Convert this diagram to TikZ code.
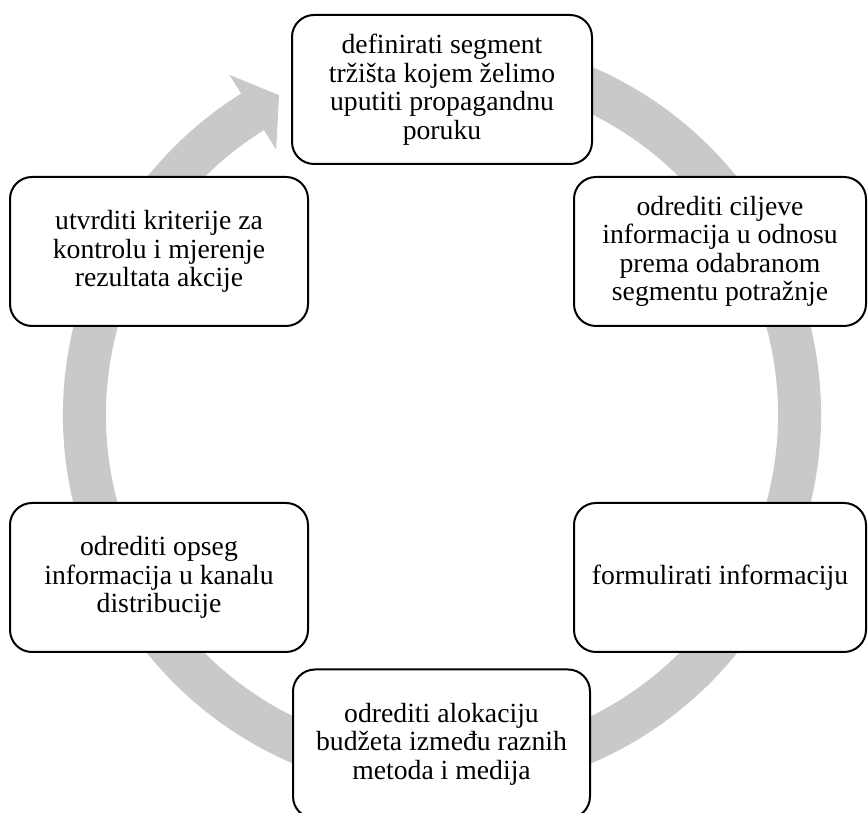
\documentclass[tikz,border=0pt]{standalone}
\usepackage{fontspec}
\setmainfont{Liberation Serif}
\definecolor{ringgray}{RGB}{201,201,201}
\begin{document}
\begin{tikzpicture}[x=1pt,y=1pt,
  box/.style={draw=black, line width=2pt, fill=white, rounded corners=22pt,
    align=center, inner sep=0pt, minimum height=149pt,
    font=\fontsize{27.7}{28.5}\selectfont},
  ring/.style={fill=ringgray}
]
\useasboundingbox (0,0) rectangle (868,813);
% circular arrow
\begin{scope}[shift={(442pt,398pt)}]
  \fill[ring] (75:379pt) arc[start angle=75, end angle=-238, radius=379pt]
    -- (122:401pt) -- (117:359pt) -- (122:313pt)
    -- (-238:336pt) arc[start angle=-238, end angle=75, radius=336pt] -- cycle;
\end{scope}
% boxes
\node[box, minimum width=300pt] (n1) at (442,723.5)
  {definirati segment\\tržišta kojem želimo\\uputiti propagandnu\\poruku};
\node[box, minimum width=292pt] (n2) at (720,561.5)
  {odrediti ciljeve\\informacija u odnosu\\prema odabranom\\segmentu potražnje};
\node[box, minimum width=292pt] (n3) at (720,235.5)
  {formulirati informaciju};
\node[box, minimum width=297pt] (n4) at (441.5,69)
  {odrediti alokaciju\\budžeta između raznih\\metoda i medija};
\node[box, minimum width=298pt] (n5) at (159,235.5)
  {odrediti opseg\\informacija u kanalu\\distribucije};
\node[box, minimum width=298pt] (n6) at (159,561.5)
  {utvrditi kriterije za\\kontrolu i mjerenje\\rezultata akcije};
\end{tikzpicture}
\end{document}
